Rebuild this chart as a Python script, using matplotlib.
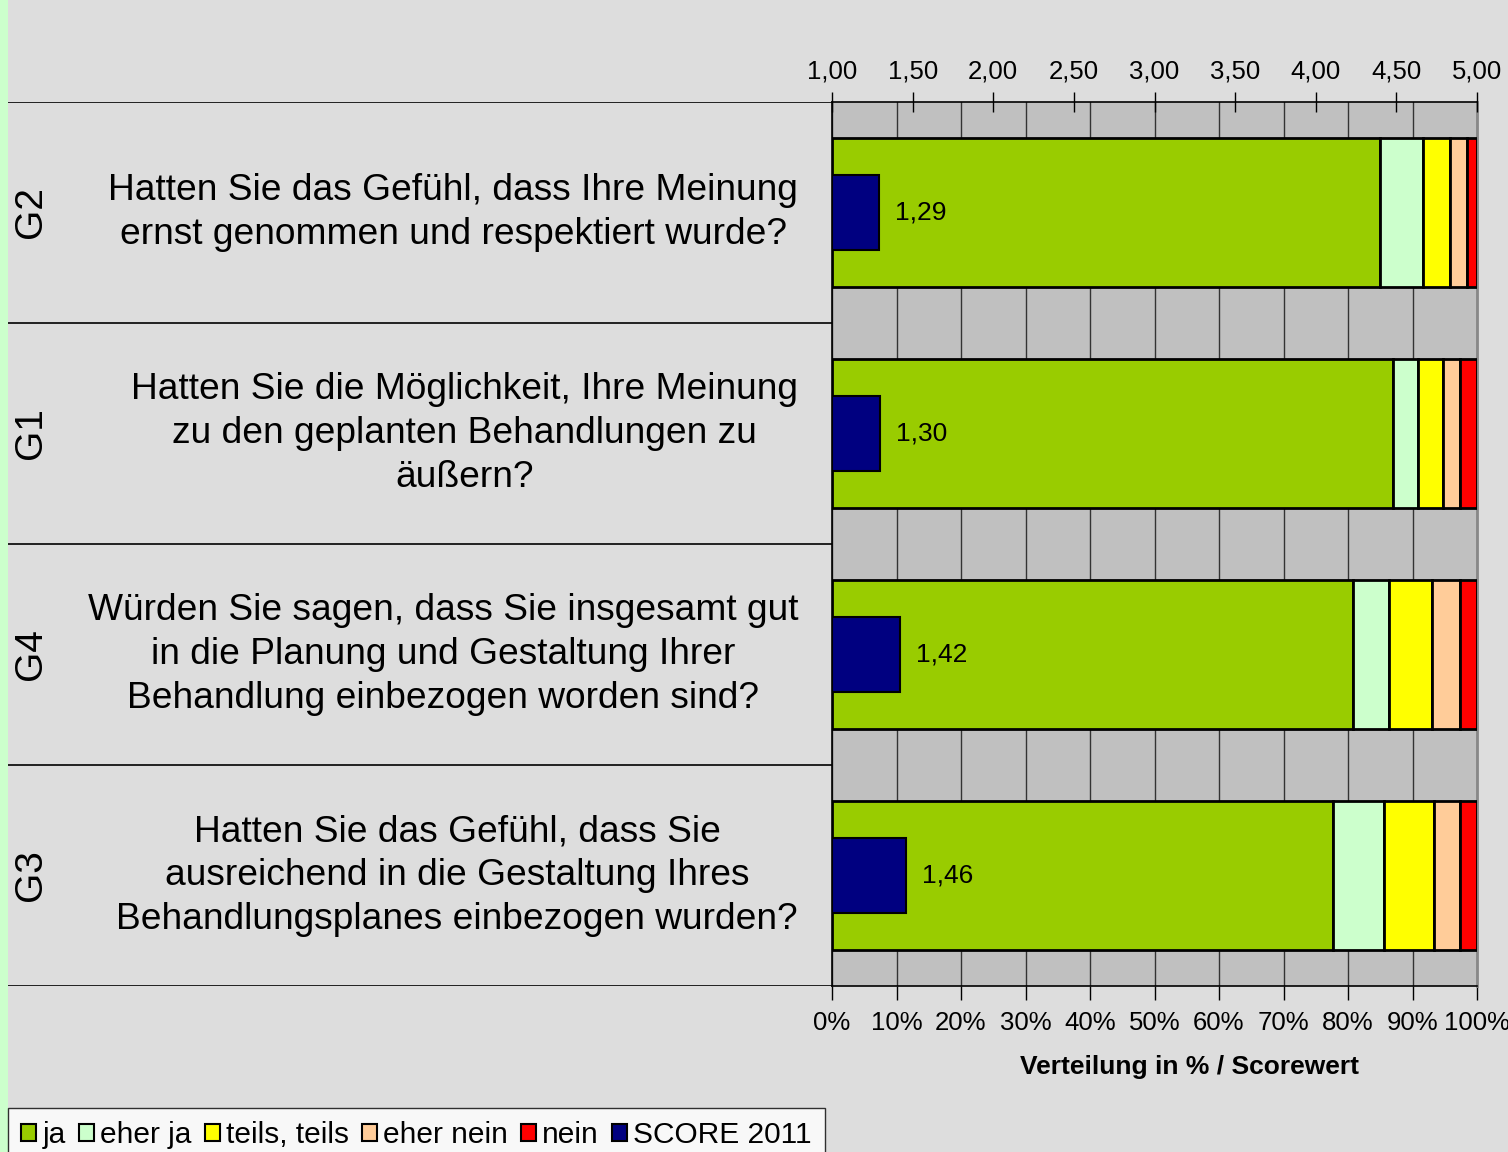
import numpy as np
import matplotlib.pyplot as plt
from matplotlib.patches import Patch

plt.rcParams['font.family'] = ['Liberation Sans', 'DejaVu Sans']

# data (top to bottom)
codes = ['G2', 'G1', 'G4', 'G3']
questions = [
    'Hatten Sie das Gefühl, dass Ihre Meinung\nernst genommen und respektiert wurde?',
    'Hatten Sie die Möglichkeit, Ihre Meinung\nzu den geplanten Behandlungen zu\näußern?',
    'Würden Sie sagen, dass Sie insgesamt gut\nin die Planung und Gestaltung Ihrer\nBehandlung einbezogen worden sind?',
    'Hatten Sie das Gefühl, dass Sie\nausreichend in die Gestaltung Ihres\nBehandlungsplanes einbezogen wurden?',
]
ja = [84.9, 86.9, 80.8, 77.7]
eher_ja = [6.8, 4.0, 5.6, 7.9]
teils = [4.1, 3.8, 6.7, 7.8]
eher_nein = [2.7, 2.7, 4.2, 4.0]
nein = [1.5, 2.6, 2.7, 2.6]
score = [1.29, 1.30, 1.42, 1.46]

series_names = ['ja', 'eher ja', 'teils, teils', 'eher nein', 'nein']
series_colors = ['#99cc00', '#ccffcc', '#ffff00', '#ffcc99', '#ff0000']
score_name = 'SCORE 2011'
score_color = '#000080'

W, H = 1508, 1152
fig = plt.figure(figsize=(W / 100, H / 100), dpi=100)
fig.patch.set_facecolor('#dddddd')

# light green strip at the left edge
strip = fig.add_axes([0, 0, 8 / W, 1])
strip.set_facecolor('#ccffcc')
strip.set_xticks([])
strip.set_yticks([])
for s in strip.spines.values():
    s.set_visible(False)

x0, x1 = 832, 1477
y0, y1 = 102, 986
ax = fig.add_axes([x0 / W, 1 - y1 / H, (x1 - x0) / W, (y1 - y0) / H])
ax.set_facecolor('#c0c0c0')
ypos = np.arange(len(codes))

left = np.zeros(len(codes))
for vals, name, col in zip([ja, eher_ja, teils, eher_nein, nein], series_names, series_colors):
    ax.barh(ypos, vals, left=left, height=0.67, color=col, edgecolor='black',
            linewidth=2, zorder=3)
    left += np.array(vals)

ax.set_xlim(0, 100)
ax.set_ylim(len(codes) - 0.5, -0.5)
ax.set_yticks([])
ax.set_xticks(np.arange(0, 101, 10))
ax.set_xticklabels(['%d%%' % v for v in range(0, 101, 10)], fontsize=18.5)
ax.tick_params(axis='x', direction='out', length=10, width=1, pad=8)
ax.grid(axis='x', color='#333333', linewidth=1, zorder=0)
ax.set_axisbelow(True)
ax.spines['right'].set_color('#888888')
ax.spines['right'].set_linewidth(2)
ax.spines['top'].set_linewidth(1.2)
ax.spines['bottom'].set_linewidth(1.2)
ax.spines['left'].set_linewidth(1.2)

# score axis on top
ax2 = ax.twiny()
ax2.set_xlim(1, 5)
ax2.barh(ypos, np.array(score) - 1, left=1, height=0.335, color=score_color,
         edgecolor='black', linewidth=1.5, zorder=4)
for y, s in zip(ypos, score):
    ax2.text(s + 0.1, y, ('%.2f' % s).replace('.', ','), va='center', ha='left',
             fontsize=19, zorder=5)
ticks = np.arange(1, 5.01, 0.5)
ax2.set_xticks(ticks)
ax2.set_xticklabels([('%.2f' % t).replace('.', ',') for t in ticks], fontsize=18.5)
ax2.tick_params(axis='x', direction='inout', length=14, width=1, pad=6.5)
for s in ax2.spines.values():
    s.set_visible(False)

# left label area
axl = fig.add_axes([8 / W, 1 - y1 / H, (x0 - 8) / W, (y1 - y0) / H])
axl.set_facecolor('none')
axl.set_xlim(0, 1)
axl.set_ylim(len(codes) - 0.5, -0.5)
axl.axis('off')
for k in range(len(codes) + 1):
    axl.axhline(k - 0.5, color='black', linewidth=1.2)
for y, c, q in zip(ypos, codes, questions):
    axl.text(23 / (x0 - 8), y, c, rotation=90, va='center', ha='center', fontsize=28)
    axl.text(790 / (x0 - 8), y, q, va='center', ha='right', multialignment='center',
             fontsize=26.7, linespacing=1.33)

fig.text(1190 / W, 1 - 1067 / H, 'Verteilung in % / Scorewert', ha='center',
         va='center', fontsize=19, fontweight='bold')

handles = [Patch(facecolor=c, edgecolor='black', linewidth=1.5) for c in series_colors]
handles.append(Patch(facecolor=score_color, edgecolor='black', linewidth=1.5))
leg = fig.legend(handles, series_names + [score_name], loc='upper left',
                 bbox_to_anchor=(8 / W, 1 - 1108 / H), ncol=6, fontsize=21.5,
                 handlelength=0.5, handleheight=0.5, handletextpad=0.2,
                 columnspacing=0.45, borderpad=0.45, frameon=True, fancybox=False,
                 borderaxespad=0)
leg.get_frame().set_edgecolor('black')
leg.get_frame().set_linewidth(1)
leg.get_frame().set_facecolor('white')

fig.savefig('out.png', dpi=100, facecolor=fig.get_facecolor())
